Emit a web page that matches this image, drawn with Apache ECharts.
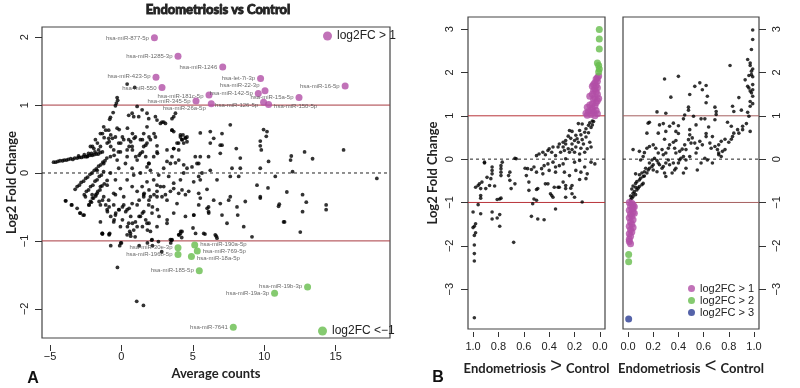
<!DOCTYPE html>
<html><head><meta charset="utf-8">
<script src="https://cdn.jsdelivr.net/npm/echarts@6/dist/echarts.min.js"></script>
<style>html,body{margin:0;padding:0;background:#fff}#c{width:800px;height:388px}</style>
</head><body><div id="c"></div>
<script>
const aBlack = [
 [-4.75,0.16],[-4.6,0.16],[-4.45,0.17],[-4.3,0.18],[-4.12,0.18],[-4.0,0.19],[-3.85,0.19],[-3.72,0.2],[-3.55,0.21],[-3.4,0.2],[-3.27,0.22],[-3.1,0.22],[-2.95,0.23],[-2.8,0.23],[-2.66,0.24],[-2.5,0.24],[-2.36,0.25],[-2.2,0.26],[-2.05,0.26],[-1.92,0.27],[-1.76,0.28],[-1.62,0.28],[-1.47,0.3],[-1.33,0.31],[-2.6,0.27],[-2.1,0.29],[-1.85,0.31],[-1.6,0.34],[-2.3,0.29],[-3.0,0.25],
 [-3.24,-0.24],[-3.1,-0.2],[-2.95,-0.18],[-2.82,-0.14],[-2.65,-0.12],[-2.5,-0.08],[-2.36,-0.06],[-2.2,-0.02],[-2.05,0.0],[-1.9,0.04],[-1.76,0.06],[-1.6,0.1],[-1.45,0.12],[-1.3,0.16],[-1.15,0.18],[-1.02,0.22],
 [-2.6,-0.32],[-2.45,-0.27],[-2.3,-0.25],[-2.16,-0.2],[-2.0,-0.18],[-1.85,-0.12],[-1.7,-0.1],[-1.55,-0.05],[-1.4,-0.03],[-1.25,0.02],
 [-2.26,-0.47],[-2.1,-0.43],[-1.95,-0.37],[-1.8,-0.34],[-1.65,-0.27],[-1.5,-0.25],[-1.36,-0.19],[-1.2,-0.16],[-1.0,-0.11],
 [0.4,1.31],[0.93,1.26],[-0.3,1.11],[-0.26,1.07],[-0.35,1.03],[-0.42,0.99],[-0.58,0.89],[-0.77,0.82],[-0.82,0.79],
 [0.51,0.85],[0.75,0.88],[0.86,0.83],[1.1,0.98],[1.21,0.83],[1.45,0.93],[1.79,0.88],[1.91,0.8],
 [2.38,0.83],[2.49,0.78],[2.73,0.73],[2.96,0.75],[3.54,0.8],[3.78,0.88],
 [3.54,0.63],[3.66,0.61],[4.13,0.53],[4.31,0.56],[4.48,0.52],[4.59,0.53],[4.24,0.49],[4.0,0.44],
 [1.79,0.68],[1.56,0.58],[1.33,0.49],[0.98,0.53],[0.51,0.49],[0.75,0.39],[0.4,0.34],[0.4,0.24],[0.28,0.14],[0.75,0.07],[1.1,0.19],[1.33,0.29],[1.56,0.39],[1.79,0.44],[2.03,0.49],[2.38,0.53],[2.49,0.4],[2.49,0.31],[2.26,0.24],[1.91,0.14],[1.79,0.09],[2.03,0.04],[1.33,0.0],[0.86,-0.03],[0.4,-0.1],[0.75,-0.2],[1.1,-0.27],[1.45,-0.2],[1.79,-0.13],[2.26,-0.1],[2.61,-0.03],[2.96,0.07],[3.19,0.17],[3.54,0.24],[3.19,0.34],[3.66,0.36],[3.89,0.44],[3.31,-0.05],[3.66,-0.15],[4.13,-0.1],[4.36,0.0],[4.59,0.07],[4.94,0.09],[5.06,-0.13],[4.24,-0.25],[3.43,-0.27],[2.49,-0.27],[2.03,-0.35],[1.56,-0.32],[2.96,-0.2],[2.49,-0.18],
 [-0.19,0.07],[-0.3,0.19],[-0.54,0.34],[-1.0,0.44],[-1.47,0.39],[-0.77,0.24],[-1.24,0.14],[-1.7,0.04],[-0.77,0.0],[-0.42,-0.1],[-1.0,-0.18],[-1.47,-0.2],[-0.54,-0.3],[-0.07,-0.23],[0.16,-0.35],
 [-2.17,0.39],[-1.82,0.49],[-1.47,0.58],[-1.24,0.68],[-0.89,0.63],[-0.3,0.66],[-0.42,0.53],[-0.19,0.44],[-0.07,0.31],[0.16,0.49],[-0.89,0.51],[-2.4,0.24],[-1.93,0.36],
 [-1.33,0.58],[-1.1,0.63],[-1.21,0.52],[-1.68,0.44],[-2.03,0.39],[-0.75,0.56],[-0.63,0.51],[-0.86,0.46],[-0.75,0.39],[-0.16,0.64],[0.07,0.53],[-0.05,0.44],[-0.21,0.31],[-0.51,0.26],[0.42,0.66],[0.77,0.58],[0.89,0.51],[0.65,0.46],[0.54,0.39],[0.77,0.34],[1.0,0.24],[1.24,0.26],[1.47,0.31],[1.7,0.24],[1.93,0.14],[2.52,0.29],[2.28,0.58],[1.93,0.53],[1.47,0.49],[1.7,0.41],
 [-3.89,-0.41],[-3.47,-0.47],[-2.91,-0.59],[-2.61,-0.62],[-2.03,-0.37],[-1.79,-0.32],[-1.56,-0.42],[-1.33,-0.4],[-1.1,-0.47],[-0.86,-0.5],[-0.98,-0.57],[-0.75,-0.64],[-0.51,-0.69],[-0.4,-0.59],[-0.16,-0.54],[0.07,-0.5],[0.3,-0.57],[0.54,-0.52],[0.65,-0.64],[0.07,-0.69],[0.42,-0.79],[0.77,-0.74],[1.24,-0.64],[1.47,-0.59],[1.7,-0.69],[1.93,-0.74],[1.47,-0.79],[1.82,-0.84],[2.17,-0.5],[2.52,-0.54],[2.63,-0.64],[1.93,-0.4],[1.24,-0.4],[1.59,-0.3],[1.93,-0.25],[2.28,-0.32],[-1.33,-0.89],[-0.86,-0.9],[-0.05,-1.03],
 [-3.92,-0.41],[-3.5,-0.47],[-2.87,-0.59],[-2.68,-0.62],[-2.28,-0.47],[-2.05,-0.32],[-1.7,-0.3],[-1.47,-0.72],[-1.35,-0.89],[-0.82,-0.89],[-0.54,-0.72],[-0.42,-0.62],[-0.19,-0.54],[0.4,-0.91],[0.63,-0.89],[0.86,-0.84],[0.98,-0.72],[1.1,-0.79],[0.51,-0.74],[1.33,-0.64],[1.56,-0.57],[1.79,-0.74],[2.03,-0.86],[2.14,-0.98],[2.49,-0.79],[3.19,-0.74],[3.43,-0.98],[3.66,-0.59],[4.13,-0.89],[4.24,-0.86],[5.07,-0.62],[5.19,-0.89],[6.0,-0.52],[6.11,-0.59],[6.57,-0.91],[6.69,-0.96],[7.39,-0.74],[8.14,-0.62],[8.56,-0.79],[8.67,-0.42],[9.14,-0.94],[9.72,-0.37],
 [5.52,-0.37],[5.41,-0.47],[4.48,-0.32],[3.89,-0.45],[3.19,-0.4],[2.49,-0.35],[1.56,-0.35],[1.1,-0.47],[-1.47,-0.47],[-1.0,-0.54],[-0.89,-0.4],[-1.24,-0.35],[-0.42,-0.32],[0.16,-0.47],[0.4,-0.54],[0.75,-0.45],[1.91,-0.47],[2.14,-0.59],[-2.17,-0.42],[-2.52,-0.35],[-3.1,-0.52],[-0.54,-0.47],[-0.07,-0.79],[6.46,-0.4],[6.92,-0.45],[7.62,-0.35],[8.09,-0.5],
 [2.84,0.75],[3.08,0.73],[3.66,0.83],[3.54,0.63],[4.13,0.56],[4.24,0.49],[4.48,0.51],[4.59,0.46],[4.36,0.44],[4.01,0.34],[3.66,0.36],[3.43,0.14],[3.78,0.15],[4.01,0.19],[4.36,0.12],[5.52,0.59],[6.22,0.61],[6.46,0.51],[7.04,0.58],[7.62,0.71],[6.92,0.41],[8.04,0.36],[8.32,0.22],[8.32,0.07],[5.17,0.24],[5.29,0.14],[6.22,0.04],[7.74,0.07],[8.21,-0.05],[7.62,-0.05],[5.41,-0.05],[5.52,-0.1],[5.99,-0.24],[6.69,-0.1],[5.41,-0.3],[4.71,-0.27],[4.01,-0.3],[3.66,-0.23],[3.08,-0.32],[2.73,-0.2],[2.84,-0.35],[7.51,-0.4],[7.04,-0.62],[6.1,-0.5],[6.1,-0.57],[5.06,-0.62],[4.48,-0.64],[3.2,-0.69],[5.76,-0.89],[5.01,-0.81],[4.01,-0.91],[3.54,-0.98],[6.22,0.44],[7.04,0.41],[6.92,0.29],[6.1,0.24],[5.52,0.24],[5.41,0.14],[5.64,0.0],
 [9.95,0.64],[10.19,0.61],[10.14,0.54],[9.72,0.47],[9.72,0.4],[9.79,0.34],[9.72,0.07],[10.3,0.17],[9.49,-0.18],[10.26,-0.22],[9.72,-0.35],[10.77,-0.05],
 [11.89,0.25],[11.84,0.19],[12.82,0.31],[13.38,0.21],[15.55,0.34],[11.98,0.02],[17.88,-0.08],[11.58,-0.28],[11.05,-0.46],[11.0,-0.49],[12.68,-0.32],[12.94,-0.43],[14.33,-0.47],[14.33,-0.54],[12.68,-0.57],[11.42,-0.72],[12.52,-0.87],[11.35,-0.72],
 [-1.33,-0.9],[-0.86,-0.91],[0.58,-0.86],[0.65,-0.93],[0.96,-0.94],[-0.75,-1.07],[-0.12,-1.07],[0.0,-1.03],[1.24,-1.07],[1.82,-1.03],[2.12,-0.99],[2.59,-1.01],[2.17,-1.07],[2.82,-1.16],[3.45,-1.03],[3.52,-0.99],[4.03,-0.91],[4.22,-0.95],[4.15,-0.86],[5.85,-0.9],[6.64,-0.93],[-0.28,-1.39],[1.07,-1.89],[1.54,-1.95]
];
const aUpNames = ['hsa-miR-877-5p','hsa-miR-1285-3p','hsa-miR-1246','hsa-miR-423-5p','hsa-miR-550','hsa-let-7i-3p','hsa-miR-22-3p','hsa-miR-16-5p','hsa-miR-181c-5p','hsa-miR-142-5p','hsa-miR-15a-5p','hsa-miR-345-5p','hsa-miR-26a-5p','hsa-miR-126-5p','hsa-miR-150-5p'];
const aUpX = [2.31,3.96,7.09,2.42,2.84,9.74,10.05,15.66,6.13,9.58,12.43,5.22,6.29,9.95,10.3];
const aUpY = [1.99,1.72,1.56,1.41,1.26,1.39,1.21,1.28,1.15,1.17,1.11,1.06,1.02,1.04,1.01];
const aDownNames = ['hsa-miR-190a-5p','hsa-miR-769-5p','hsa-miR-18a-5p','hsa-miR-30e-3p','hsa-miR-196b-5p','hsa-miR-185-5p','hsa-miR-19b-3p','hsa-miR-19a-3p','hsa-miR-7641'];
const aDownX = [5.13,5.31,4.9,3.96,3.96,5.45,13.03,10.72,7.83];
const aDownY = [-1.06,-1.15,-1.23,-1.10,-1.20,-1.44,-1.68,-1.77,-2.27];
const aXTicks = [-5,0,5,10,15];
const aYTicks = [-2,-1,0,1,2];
const aXRange = [-5.56, 18.8];

const bLeftBlack = [
 [0.06,0.88],[0.08,0.84],[0.05,0.87],[0.09,0.78],[0.06,0.79],[0.11,0.70],[0.07,0.73],[0.14,0.81],[0.17,0.82],[0.16,0.66],[0.12,0.62],[0.09,0.61],[0.15,0.56],[0.19,0.55],[0.22,0.64],[0.24,0.66],[0.11,0.51],[0.14,0.45],[0.18,0.47],[0.20,0.43],[0.23,0.48],[0.25,0.53],[0.27,0.43],[0.29,0.39],[0.32,0.35],[0.27,0.35],[0.22,0.35],[0.17,0.39],[0.13,0.35],[0.08,0.39],[0.07,0.28],[0.10,0.24],[0.15,0.25],[0.19,0.28],[0.22,0.22],[0.25,0.24],[0.28,0.20],[0.31,0.16],[0.33,0.28],[0.29,0.28],[0.24,0.16],[0.20,0.16],[0.16,0.12],[0.12,0.16],[0.35,0.08],[0.38,0.16],[0.41,0.20],[0.43,0.10],[0.45,0.16],[0.48,0.12],[0.50,0.08],[0.40,0.24],[0.37,0.28],
 [0.27,0.01],[0.20,-0.07],[0.16,-0.03],[0.07,-0.07],[0.12,-0.18],[0.04,-0.11],[0.29,-0.11],[0.32,-0.15],[0.35,-0.18],[0.37,-0.07],[0.41,-0.11],[0.44,-0.15],[0.46,-0.22],[0.52,-0.18],[0.54,-0.24],[0.57,-0.22],[0.59,-0.21],[0.50,-0.30],[0.45,-0.34],[0.40,-0.26],[0.35,-0.30],[0.28,-0.30],[0.24,-0.38],[0.19,-0.26],[0.15,-0.30],[0.10,-0.34],[0.11,-0.45],[0.16,-0.47],[0.66,0.01],[0.67,0.02],[0.77,-0.07],[0.78,-0.15],[0.78,-0.22],[0.78,-0.30],[0.78,-0.38],[0.85,-0.18],[0.85,-0.26],[0.85,-0.34],[0.86,-0.45],[0.91,-0.07],[0.89,-0.42],[0.93,-0.53],[0.95,-0.57],[0.96,-0.61],[0.87,-0.61],[0.83,-0.62],[0.90,-0.68],[0.98,-0.65],[0.94,-0.68],[0.94,-0.84],[0.94,-0.90],[0.81,-0.93],[0.79,-0.92],[0.78,-0.90],[0.71,-0.30],[0.72,-0.38],[0.71,-0.49],[0.70,-0.68],[0.67,-0.57],[0.58,-0.38],[0.56,-0.53],[0.56,-0.72],[0.50,-0.70],[0.49,-0.68],[0.43,-0.57],[0.41,-0.57],[0.39,-0.80],[0.38,-0.84],[0.37,-0.88],[0.36,-0.65],[0.33,-0.65],[0.32,-0.65],[0.29,-0.53],[0.27,-0.61],[0.27,-0.68],[0.23,-0.67],[0.22,-0.61],[0.22,-0.80],[0.20,-0.88],[0.27,-0.88],[0.14,-0.99],[0.52,-0.92],[0.53,-1.03],[0.35,-1.15],[0.50,-0.95],[0.91,-0.09],
 [1.0,-1.22],[0.96,-1.05],[0.94,-1.26],[0.85,-1.22],[0.85,-1.38],[0.81,-1.36],[0.79,-1.28],[0.79,-1.55],[0.54,-1.32],[0.49,-1.38],[0.44,-1.40],[0.98,-1.49],[0.99,-1.55],[1.0,-1.58],[0.98,-1.70],[0.99,-1.76],[0.99,-1.98],[0.99,-2.18],[0.99,-2.35],[0.68,-1.92],[0.99,-3.66]
];
const bLeftP1 = [[0.01,1.92],[0.02,1.88],[0.03,1.85],[0.02,1.80],[0.04,1.76],[0.05,1.72],[0.03,1.70],[0.06,1.68],[0.02,1.65],[0.04,1.62],[0.05,1.58],[0.03,1.55],[0.08,1.45],[0.02,1.50],[0.04,1.42],[0.05,1.38],[0.02,1.35],[0.03,1.30],[0.06,1.28],[0.08,1.25],[0.04,1.22],[0.10,1.20],[0.06,1.16],[0.03,1.12],[0.09,1.10],[0.05,1.08],[0.11,1.06],[0.02,1.05],[0.07,1.03],[0.10,1.01],[0.04,1.00],[0.01,1.40],[0.06,1.50],[0.07,1.12]];
const bLeftP2 = [[0.005,2.99],[0.005,2.77],[0.005,2.54],[0.02,2.22],[0.01,2.16],[0.005,2.08],[0.01,2.01]];
const bRightBlack = [
 [0.02,-0.94],[0.03,-0.90],[0.04,-0.86],[0.06,-0.82],[0.02,-0.85],[0.04,-0.79],[0.05,-0.75],[0.07,-0.71],[0.08,-0.67],[0.06,-0.65],[0.09,-0.63],[0.11,-0.59],[0.12,-0.56],[0.03,-0.69],[0.04,-0.62],[0.06,-0.56],[0.07,-0.52],[0.09,-0.48],[0.10,-0.44],[0.12,-0.40],[0.13,-0.39],[0.15,-0.32],[0.13,-0.29],[0.11,-0.32],[0.09,-0.36],[0.16,-0.25],[0.17,-0.21],[0.19,-0.17],[0.20,-0.13],[0.14,-0.21],[0.17,-0.09],[0.19,-0.02],[0.21,0.02],[0.23,-0.03],[0.24,-0.09],[0.25,-0.13],[0.20,-0.25],[0.23,-0.29],[0.27,-0.21],[0.28,-0.17],[0.30,-0.09],[0.32,-0.02],[0.33,-0.13],[0.29,-0.32],[0.30,-0.40],[0.35,-0.32],[0.37,-0.25],[0.38,-0.21],[0.36,-0.09],[0.40,-0.09],[0.41,-0.02],[0.42,0.02],[0.44,0.06],[0.46,-0.02],[0.49,0.06],[0.10,-0.02],[0.06,-0.34],
 [0.09,0.18],[0.13,0.15],[0.15,0.25],[0.17,0.29],[0.20,0.33],[0.22,0.25],[0.24,0.14],[0.27,0.22],[0.28,0.10],[0.30,0.14],[0.32,0.25],[0.33,0.33],[0.36,0.39],[0.37,0.25],[0.38,0.14],[0.41,0.18],[0.43,0.23],[0.45,0.33],[0.46,0.22],[0.48,0.45],[0.49,0.56],[0.50,0.37],[0.51,0.49],[0.53,0.37],[0.54,0.14],[0.55,0.25],[0.57,0.41],[0.59,0.33],[0.62,0.52],[0.65,0.37],[0.66,0.25],[0.69,0.29],[0.71,0.22],[0.72,0.33],[0.74,0.41],[0.77,0.46],[0.80,0.39],[0.82,0.46],[0.83,0.52],[0.84,0.60],[0.87,0.68],[0.72,0.14],[0.74,0.06],[0.72,0.10],[0.61,0.02],[0.58,-0.09],[0.55,-0.25],[0.46,-0.21],[0.44,-0.32],[0.63,-0.02],[0.67,-0.09],[0.75,0.18],[0.77,0.22],[0.04,0.22],[0.12,0.06],
 [0.15,0.60],[0.16,0.83],[0.17,0.85],[0.24,0.60],[0.25,0.79],[0.28,0.82],[0.29,0.46],[0.30,0.64],[0.36,0.83],[0.38,0.64],[0.40,0.59],[0.40,0.77],[0.44,0.93],[0.45,1.02],[0.48,1.13],[0.49,0.68],[0.52,0.99],[0.54,0.79],[0.58,0.93],[0.61,0.93],[0.62,0.59],[0.64,0.74],[0.67,0.52],[0.69,0.91],[0.70,1.03],[0.62,1.30],[0.63,1.45],[0.62,1.70],[0.57,1.76],[0.59,1.60],[0.53,1.68],[0.49,1.49],[0.48,1.20],[0.40,1.91],[0.34,1.43],[0.29,1.85],[0.23,1.09],
 [0.83,1.22],[0.79,0.85],[0.82,0.76],[0.84,1.10],[0.88,1.42],[0.90,1.13],[0.91,0.76],[0.94,0.82],[0.95,1.08],[0.93,1.83],[0.96,1.93],[0.95,1.68],[0.96,1.64],[0.97,1.57],[0.99,1.60],[0.99,1.72],[0.98,1.53],[0.99,1.45],[0.97,1.33],[0.97,1.22],[0.99,1.28],[0.99,1.90],[0.98,1.95],[0.99,2.08],[0.97,2.22],[0.98,2.53],[0.99,2.76],[0.99,2.98],[0.95,2.30],[0.97,2.16],[0.98,2.03],[0.81,2.16],[0.97,0.64],[0.96,0.99],[0.91,0.68],[0.88,0.60],[0.30,1.06],[0.33,0.76],[0.69,1.20],[0.70,1.10],[0.38,0.43]
];
const bRightP1 = [[0.01,-1.0],[0.03,-1.02],[0.04,-1.05],[0.02,-1.08],[0.05,-1.1],[0.03,-1.15],[0.01,-1.18],[0.04,-1.22],[0.02,-1.27],[0.03,-1.32],[0.01,-1.35],[0.04,-1.4],[0.02,-1.45],[0.03,-1.5],[0.01,-1.55],[0.04,-1.58],[0.02,-1.63],[0.03,-1.68],[0.01,-1.72],[0.02,-1.78],[0.01,-1.85],[0.01,-1.9],[0.02,-1.95],[0.05,-1.25],[0.04,-1.12]];
const bRightP2 = [[0.005,-2.2],[0.005,-2.37]];
const bRightP3 = [[0.005,-3.69]];
const bXTicks = [0,0.2,0.4,0.6,0.8,1.0];
const bYTicks = [-3,-2,-1,0,1,2,3];
const refLevels = [1,-1];

const PURPLE = '#b24fa6', GREEN = '#67bd4c', BLUE = '#2b3c93', RED_A = '#a83a40', RED_B = '#b8343a', RED_C = '#a66060';
const TICKFONT = 'Liberation Sans';
const BOLDFONT = 'Lato';
const aUpPos = ['left','left','left','left','left','left','left','left','left','left','left','left','left','left','right'];
const aUpOff = [[0,0],[0,0],[0,0],[0,-1],[0,1],[0,0],[0,-5],[0,0],[0,1],[0,0],[0,0],[0,0],[0,5],[0,3],[0,2]];
const aDownPos = ['right','right','right','left','left','left','left','left','left'];
const aDownOff = [[0,-1],[0,0],[0,2],[0,0],[0,0],[0,0],[0,-1],[0,0],[0,0]];

const fmtMinus = v => String(v).replace('-', '\u2212');
const lbl = {fontSize:6, color:'#444', fontFamily:TICKFONT, distance:2};

function hLine(grid, level, xr, color, dashed) {
  return {type:'line', name:'ref-' + grid + '-' + level, xAxisIndex:grid, yAxisIndex:grid, silent:true,
    symbol:'none', z:1, lineStyle:{color:color, width:1, type: dashed ? [3,3] : 'solid'},
    data:[[xr[0], level],[xr[1], level]]};
}
function yAxisCfg(grid, min, max, ticks, pos, name, nameGap, margin) {
  return {type:'value', gridIndex:grid, min:min, max:max, position:pos,
    splitLine:{show:false}, axisLine:{show:false, onZero:false},
    axisTick:{show:true, customValues:ticks, length:7, lineStyle:{color:'#333'}},
    axisLabel:{customValues:ticks, rotate:90, fontSize:11, color:'#222', fontFamily:TICKFONT, margin:margin, formatter:fmtMinus},
    name:name, nameLocation:'middle', nameGap:nameGap, nameRotate:90,
    nameTextStyle:{fontSize:13, fontWeight:'bold', fontFamily:BOLDFONT, color:'#222'}};
}
function xAxisCfg(grid, min, max, ticks, inverse, offset, tickLen, margin, name, nameGap, fmt) {
  return {type:'value', gridIndex:grid, min:min, max:max, inverse:inverse, offset:offset,
    splitLine:{show:false}, axisLine:{show:false, onZero:false},
    axisTick:{show:true, customValues:ticks, length:tickLen, lineStyle:{color:'#333'}},
    axisLabel:{customValues:ticks, fontSize:11, color:'#222', fontFamily:TICKFONT, margin:margin, formatter:fmt},
    name:name, nameLocation:'middle', nameGap:nameGap,
    nameTextStyle:{fontSize:13, fontWeight:'bold', fontFamily:BOLDFONT, color:'#222',
      rich:{g:{fontSize:20, fontWeight:'normal', fontFamily:TICKFONT, color:'#222', padding:[0,1,3,1]}}}};
}

const chart = echarts.init(document.getElementById('c'));
const boxStyle = {show:true, borderColor:'#444', borderWidth:1.2, backgroundColor:'transparent'};
const bXRange = [-0.04, 1.04];
const refSeries = [];
[[0, aXRange, RED_A], [1, bXRange, RED_B], [2, bXRange, RED_C]].forEach(([g, xr, c]) => {
  refLevels.forEach(l => refSeries.push(hLine(g, l, xr, c, false)));
  refSeries.push(hLine(g, 0, xr, '#222', true));
});
const option = {
  animation:false,
  backgroundColor:'#fff',
  grid:[
    Object.assign({left:42, top:27, width:348, height:311}, boxStyle),
    Object.assign({left:468, top:17, width:137, height:312}, boxStyle),
    Object.assign({left:623, top:17, width:136, height:312}, boxStyle)
  ],
  xAxis:[
    xAxisCfg(0, aXRange[0], aXRange[1], aXTicks, false, 7, 6, 6, 'Average counts', 19, fmtMinus),
    xAxisCfg(1, bXRange[0], bXRange[1], bXTicks, true, 3, 5, 9, 'Endometriosis {g|>} Control', 24, v => v.toFixed(1)),
    xAxisCfg(2, bXRange[0], bXRange[1], bXTicks, false, 3, 5, 9, 'Endometriosis {g|<} Control', 24, v => v.toFixed(1))
  ],
  yAxis:[
    yAxisCfg(0, -2.43, 2.15, aYTicks, 'left', 'Log2 Fold Change', 22, 12),
    yAxisCfg(1, -3.92, 3.28, bYTicks, 'left', 'Log2 Fold Change', 29, 13),
    yAxisCfg(2, -3.92, 3.28, bYTicks, 'right', '', 0, 12)
  ],
  legend:[
    {data:['log2FC > 1'], left:323, top:30, padding:0, icon:'circle', itemWidth:9, itemHeight:9, selectedMode:false,
     textStyle:{fontSize:12, fontFamily:TICKFONT, color:'#222'}},
    {data:['log2FC <\u22121'], left:318, top:325, padding:0, icon:'circle', itemWidth:9, itemHeight:9, selectedMode:false,
     textStyle:{fontSize:12, fontFamily:TICKFONT, color:'#222'}},
    {data:['log2FC > 1','log2FC > 2','log2FC > 3'], orient:'vertical', left:688, top:283, padding:0, itemGap:1,
     icon:'circle', itemWidth:7, itemHeight:7, selectedMode:false,
     textStyle:{fontSize:11, fontFamily:TICKFONT, color:'#222'}}
  ],
  series: refSeries.concat([
    {type:'scatter', name:'a-black', xAxisIndex:0, yAxisIndex:0, data:aBlack, symbolSize:3.8,
     itemStyle:{color:'#000'}, z:2},
    {type:'scatter', name:'log2FC > 1', xAxisIndex:0, yAxisIndex:0, symbolSize:7, itemStyle:{color:PURPLE}, z:6,
     data:aUpNames.map((n,i)=>({name:n, value:[aUpX[i], aUpY[i]],
       label:Object.assign({show:true, position:aUpPos[i], offset:aUpOff[i], formatter:'{b}'}, lbl)}))},
    {type:'scatter', name:'log2FC <\u22121', xAxisIndex:0, yAxisIndex:0, symbolSize:7, itemStyle:{color:GREEN}, z:6,
     data:aDownNames.map((n,i)=>({name:n, value:[aDownX[i], aDownY[i]],
       label:Object.assign({show:true, position:aDownPos[i], offset:aDownOff[i], formatter:'{b}'}, lbl)}))},
    {type:'scatter', name:'b-left-black', xAxisIndex:1, yAxisIndex:1, data:bLeftBlack, symbolSize:3.6, itemStyle:{color:'#000'}, z:2},
    {type:'scatter', name:'log2FC > 1', xAxisIndex:1, yAxisIndex:1, data:bLeftP1, symbolSize:7, itemStyle:{color:PURPLE}, z:6},
    {type:'scatter', name:'log2FC > 2', xAxisIndex:1, yAxisIndex:1, data:bLeftP2, symbolSize:7, itemStyle:{color:GREEN}, z:6},
    {type:'scatter', name:'b-right-black', xAxisIndex:2, yAxisIndex:2, data:bRightBlack, symbolSize:3.6, itemStyle:{color:'#000'}, z:2},
    {type:'scatter', name:'log2FC > 1', xAxisIndex:2, yAxisIndex:2, data:bRightP1, symbolSize:7, itemStyle:{color:PURPLE}, z:6},
    {type:'scatter', name:'log2FC > 2', xAxisIndex:2, yAxisIndex:2, data:bRightP2, symbolSize:7, itemStyle:{color:GREEN}, z:6},
    {type:'scatter', name:'log2FC > 3', xAxisIndex:2, yAxisIndex:2, data:bRightP3, symbolSize:7, itemStyle:{color:BLUE}, z:6}
  ]),
  graphic:[
    {type:'text', x:218, y:10, style:{text:'Endometriosis vs Control', align:'center', verticalAlign:'middle',
      font:'bold 13px Lato', fill:'#222'}},
    {type:'text', x:33, y:379, style:{text:'A', align:'center', verticalAlign:'middle', font:'bold 16px "Liberation Sans"', fill:'#111'}},
    {type:'text', x:438, y:378, style:{text:'B', align:'center', verticalAlign:'middle', font:'bold 16px "Liberation Sans"', fill:'#111'}}
  ]
};
chart.setOption(option);
const p1 = chart.convertToPixel({xAxisIndex:0, yAxisIndex:0}, [aXTicks[0], -2.43]);
const p2 = chart.convertToPixel({xAxisIndex:0, yAxisIndex:0}, [aXTicks[aXTicks.length-1], -2.43]);
chart.setOption({graphic:[{type:'line', shape:{x1:p1[0], y1:p1[1]+7, x2:p2[0], y2:p2[1]+7}, style:{stroke:'#333', lineWidth:1}}]});
</script></body></html>
